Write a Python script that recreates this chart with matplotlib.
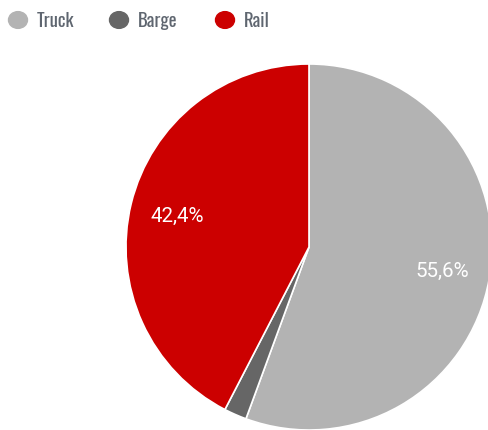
import matplotlib.pyplot as plt

# transport mode shares
modes = ['Truck', 'Barge', 'Rail']
shares = [55.6, 2.0, 42.4]
colors = ['#b3b3b3', '#666666', '#cc0000']

fig = plt.figure(figsize=(4.89, 4.31), dpi=100)
ax = fig.add_axes([0, 0, 1, 1])

R = 183
wedges, _, autotexts = ax.pie(
    shares, colors=colors, radius=R, startangle=90, counterclock=False,
    autopct=lambda p: f'{p:.1f}'.replace('.', ',') + '%' if p > 5 else '',
    pctdistance=0.74,
    wedgeprops=dict(edgecolor='white', linewidth=1.2),
    textprops=dict(color='white', fontsize=14.8, family='Roboto'),
)

ax.set_xlim(-309, 180)
ax.set_ylim(-183, 248)
ax.set_aspect('equal')
ax.axis('off')

# legend row across the top
x_dots = [18, 119, 225]
for x, name, c in zip(x_dots, modes, colors):
    fig.patches.append(plt.Circle((x / 489, 1 - 21 / 431), 9.5 / 489,
                                  transform=fig.transFigure, color=c,
                                  figure=fig))
    fig.text((x + 19) / 489, 1 - 21 / 431, name, fontsize=13.5,
             family='Oswald', color='#5f6670', va='center', ha='left')

fig.savefig('out.png', dpi=100)
